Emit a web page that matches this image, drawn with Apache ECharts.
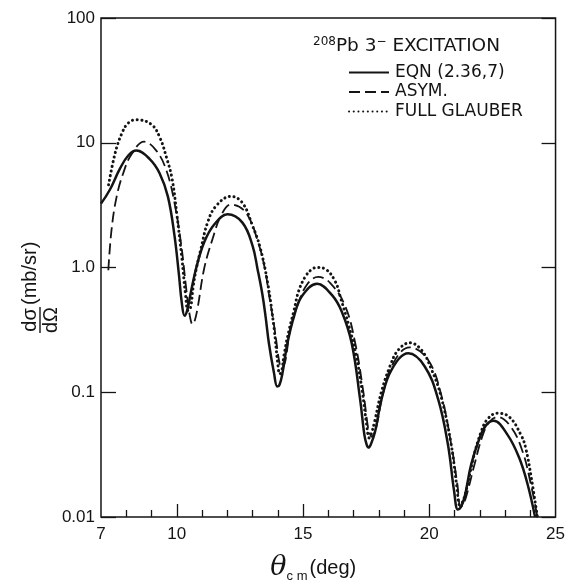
<!DOCTYPE html>
<html>
<head>
<meta charset="utf-8">
<script src="https://cdn.jsdelivr.net/npm/echarts@6/dist/echarts.min.js"></script>
<style>
  html, body { margin: 0; padding: 0; background: #fff; }
  #chart { width: 568px; height: 588px; }
</style>
</head>
<body>
<div id="chart"></div>
<script>
// angles (deg) and cross sections (mb/sr)
const eqnTheta = [7.0, 7.35, 7.75, 8.08, 8.4, 8.93, 9.32, 9.65, 9.91, 10.08, 10.2, 10.31, 10.42, 10.55, 10.77,
  11.09, 11.49, 12.01, 12.6, 13.0, 13.2, 13.39, 13.52, 13.65, 13.85, 13.98, 14.07, 14.18, 14.38, 14.65, 14.96,
  15.56, 16.15, 16.54, 16.93, 17.26, 17.43, 17.52, 17.59, 17.68, 17.85, 18.11, 18.51, 19.17, 19.82, 20.35,
  20.74, 20.98, 21.13, 21.25, 21.4, 21.66, 21.99, 22.25, 22.55, 23.1, 23.56, 23.89, 24.19];
const eqnSigma = [3.25, 4.2, 6.2, 7.9, 8.65, 7.4, 5.7, 3.7, 1.8, 0.9, 0.52, 0.41, 0.46, 0.62, 0.99,
  1.6, 2.22, 2.67, 2.29, 1.5, 0.97, 0.61, 0.4, 0.246, 0.143, 0.111, 0.115, 0.14, 0.246, 0.41, 0.59,
  0.74, 0.6, 0.44, 0.246, 0.088, 0.0455, 0.038, 0.036, 0.038, 0.048, 0.088, 0.152, 0.205, 0.161, 0.088,
  0.038, 0.0163, 0.0115, 0.012, 0.0145, 0.0264, 0.0428, 0.0545, 0.059, 0.0455, 0.0298, 0.0184, 0.01];

const asymTheta = [7.29, 7.42, 7.62, 7.88, 8.21, 8.71, 9.19, 9.59, 9.91, 10.18, 10.37, 10.5, 10.63, 10.72, 10.83,
  11.09, 11.42, 11.75, 12.14, 12.74, 13.26, 13.5, 13.65, 13.8, 13.92, 14.05, 14.15, 14.23, 14.31, 14.51, 14.77,
  15.16, 15.6, 16.08, 16.67, 17.07, 17.39, 17.56, 17.64, 17.72, 17.8, 17.92, 18.18, 18.57, 19.22, 19.95,
  20.48, 20.87, 21.11, 21.24, 21.33, 21.46, 21.79, 22.12, 22.38, 22.7, 23.23, 23.69, 24.02, 24.28];
const asymSigma = [0.95, 2.03, 3.7, 5.7, 8.1, 10.2, 8.65, 6.0, 3.3, 1.5, 0.69, 0.43, 0.35, 0.38, 0.48,
  0.99, 1.7, 2.6, 3.19, 2.75, 1.5, 0.95, 0.61, 0.4, 0.278, 0.18, 0.156, 0.162, 0.182, 0.333, 0.49,
  0.73, 0.84, 0.75, 0.49, 0.246, 0.1, 0.0545, 0.047, 0.044, 0.046, 0.0545, 0.1, 0.171, 0.229, 0.182,
  0.094, 0.038, 0.0184, 0.012, 0.0125, 0.0145, 0.0264, 0.0455, 0.0578, 0.0634, 0.0528, 0.0337, 0.0184, 0.01];

const glauberTheta = [7.3, 7.55, 7.81, 8.08, 8.4, 9.0, 9.33, 9.59, 9.81, 10.0, 10.2, 10.35, 10.45, 10.55, 10.65,
  10.77, 10.96, 11.22, 11.55, 12.14, 12.6, 13.0, 13.3, 13.6, 13.85, 14.0, 14.08, 14.16, 14.25, 14.44, 14.64,
  14.83, 15.1, 15.36, 15.56, 15.89, 16.28, 16.5, 16.8, 17.1, 17.35, 17.52, 17.62, 17.7, 17.85, 18.1, 18.44,
  18.77, 19.23, 19.69, 20.09, 20.45, 20.85, 21.1, 21.2, 21.3, 21.45, 21.75, 22.05, 22.31, 22.7, 23.17, 23.63,
  23.82, 24.05, 24.28];
const glauberSigma = [4.6, 8.1, 11.7, 14.4, 15.3, 14.0, 11.0, 7.66, 5.2, 2.7, 1.2, 0.6, 0.45, 0.48, 0.7,
  0.97, 1.42, 2.29, 3.1, 3.72, 3.3, 2.16, 1.45, 0.75, 0.33, 0.17, 0.14, 0.15, 0.2, 0.31, 0.45,
  0.65, 0.85, 0.97, 1.0, 0.97, 0.77, 0.56, 0.35, 0.2, 0.1, 0.055, 0.043, 0.046, 0.06, 0.1, 0.161,
  0.218, 0.249, 0.218, 0.152, 0.095, 0.04, 0.017, 0.0125, 0.013, 0.016, 0.03, 0.048, 0.061, 0.068, 0.0634, 0.0455,
  0.0356, 0.02, 0.01];

const seriesNames = ['EQN (2.36,7)', 'ASYM.', 'FULL GLAUBER'];
const xLabelValues = [7, 10, 15, 20, 25];
const xMinorTicks = [8, 9, 11, 12, 13, 14, 16, 17, 18, 19, 21, 22, 23, 24];
const xMajorTicks = [10, 15, 20];
const yTickLabels = ['0.01', '0.1', '1.0', '10', '100'];

const zip = (xs, ys) => xs.map((x, i) => [x, ys[i]]);

const ink = '#141414';
const font = 'Liberation Sans';

const chart = echarts.init(document.getElementById('chart'));

const baseX = {
  type: 'value',
  min: 7,
  max: 25,
  position: 'bottom',
  axisLine: { show: false },
  splitLine: { show: false }
};

const option = {
  animation: false,
  backgroundColor: '#fff',
  grid: {
    left: 101, right: 10, top: 18, bottom: 61,
    show: true,
    borderColor: ink,
    borderWidth: 1.5,
    backgroundColor: 'transparent'
  },
  title: {
    left: 308,
    top: 31,
    text: '{sup|208}{n|Pb 3}{sup|−}{n| EXCITATION}',
    textStyle: {
      fontWeight: 'normal',
      rich: {
        n: { fontSize: 18.5, fontFamily: 'DejaVu Sans', fontWeight: 'normal', color: ink, lineHeight: 21 },
        sup: { fontSize: 12, fontFamily: 'DejaVu Sans', fontWeight: 'normal', color: ink, lineHeight: 12, verticalAlign: 'top' }
      }
    }
  },
  legend: {
    orient: 'vertical',
    left: 343,
    top: 59,
    itemWidth: 40,
    itemHeight: 14,
    itemGap: 2.5,
    selectedMode: false,
    itemStyle: { opacity: 0 },
    textStyle: { color: ink, fontSize: 17, lineHeight: 15, fontFamily: 'DejaVu Sans', padding: [0, 0, 0, 1] },
    data: seriesNames
  },
  xAxis: [
    Object.assign({}, baseX, {
      axisTick: { inside: true, length: 7, customValues: xMinorTicks, lineStyle: { color: ink, width: 1.3 } },
      axisLabel: {
        customValues: xLabelValues,
        color: ink, fontSize: 17, fontFamily: font, margin: 9
      },
      name: '{th|θ}{sub|c m}{p|(deg)}',
      nameLocation: 'middle',
      nameGap: 36,
      nameTextStyle: {
        padding: [0, 30, 0, 0],
        rich: {
          th: { fontSize: 27, fontFamily: 'DejaVu Serif', fontStyle: 'italic', color: ink, lineHeight: 30 },
          sub: { fontSize: 13, fontFamily: font, color: ink, lineHeight: 8, verticalAlign: 'bottom', padding: [0, 2, 0, 0] },
          p: { fontSize: 20, fontFamily: font, color: ink, lineHeight: 30 }
        }
      }
    }),
    Object.assign({}, baseX, {
      axisTick: { inside: true, length: 13, customValues: xMajorTicks, lineStyle: { color: ink, width: 1.3 } },
      axisLabel: { show: false }
    })
  ],
  yAxis: [
    {
      type: 'log',
      logBase: 10,
      min: 0.01,
      max: 100,
      position: 'left',
      axisLine: { show: false },
      splitLine: { show: false },
      axisTick: { inside: true, length: 15, lineStyle: { color: ink, width: 1.3 } },
      axisLabel: {
        color: ink, fontSize: 17, fontFamily: font, margin: 6,
        formatter: v => yTickLabels[Math.round(Math.log10(v)) + 2]
      }
    },
    {
      type: 'log',
      logBase: 10,
      min: 0.01,
      max: 100,
      position: 'right',
      axisLine: { show: false },
      splitLine: { show: false },
      axisTick: { inside: true, length: 14, lineStyle: { color: ink, width: 1.3 } },
      axisLabel: { show: false }
    }
  ],
  graphic: [
    {
      type: 'group',
      x: 40,
      y: 320,
      rotation: Math.PI / 2,
      children: [
        { type: 'text', x: 0, y: -10, style: { text: 'dσ', fill: ink, fontSize: 20, fontFamily: font, align: 'center', verticalAlign: 'middle' } },
        { type: 'line', shape: { x1: -13, y1: 0, x2: 13, y2: 0 }, style: { stroke: ink, lineWidth: 1.4 } },
        { type: 'text', x: 0, y: 11, style: { text: 'dΩ', fill: ink, fontSize: 20, fontFamily: font, align: 'center', verticalAlign: 'middle' } },
        { type: 'text', x: 15, y: -10, style: { text: '(mb/sr)', fill: ink, fontSize: 20, fontFamily: font, align: 'left', verticalAlign: 'middle' } }
      ]
    }
  ],
  series: [
    {
      name: seriesNames[0],
      type: 'line',
      data: zip(eqnTheta, eqnSigma),
      symbol: 'none',
      smooth: 0.4,
      lineStyle: { color: ink, width: 2.5 },
      itemStyle: { color: ink }
    },
    {
      name: seriesNames[1],
      type: 'line',
      data: zip(asymTheta, asymSigma),
      symbol: 'none',
      smooth: 0.4,
      lineStyle: { color: ink, width: 1.8, type: [11, 5] },
      itemStyle: { color: ink }
    },
    {
      name: seriesNames[2],
      type: 'line',
      data: zip(glauberTheta, glauberSigma),
      symbol: 'none',
      smooth: 0.4,
      lineStyle: { color: ink, width: 3, type: [0.1, 4.6], cap: 'round' },
      itemStyle: { color: ink }
    }
  ]
};

chart.setOption(option);
window.addEventListener('resize', () => chart.resize());
</script>
</body>
</html>
